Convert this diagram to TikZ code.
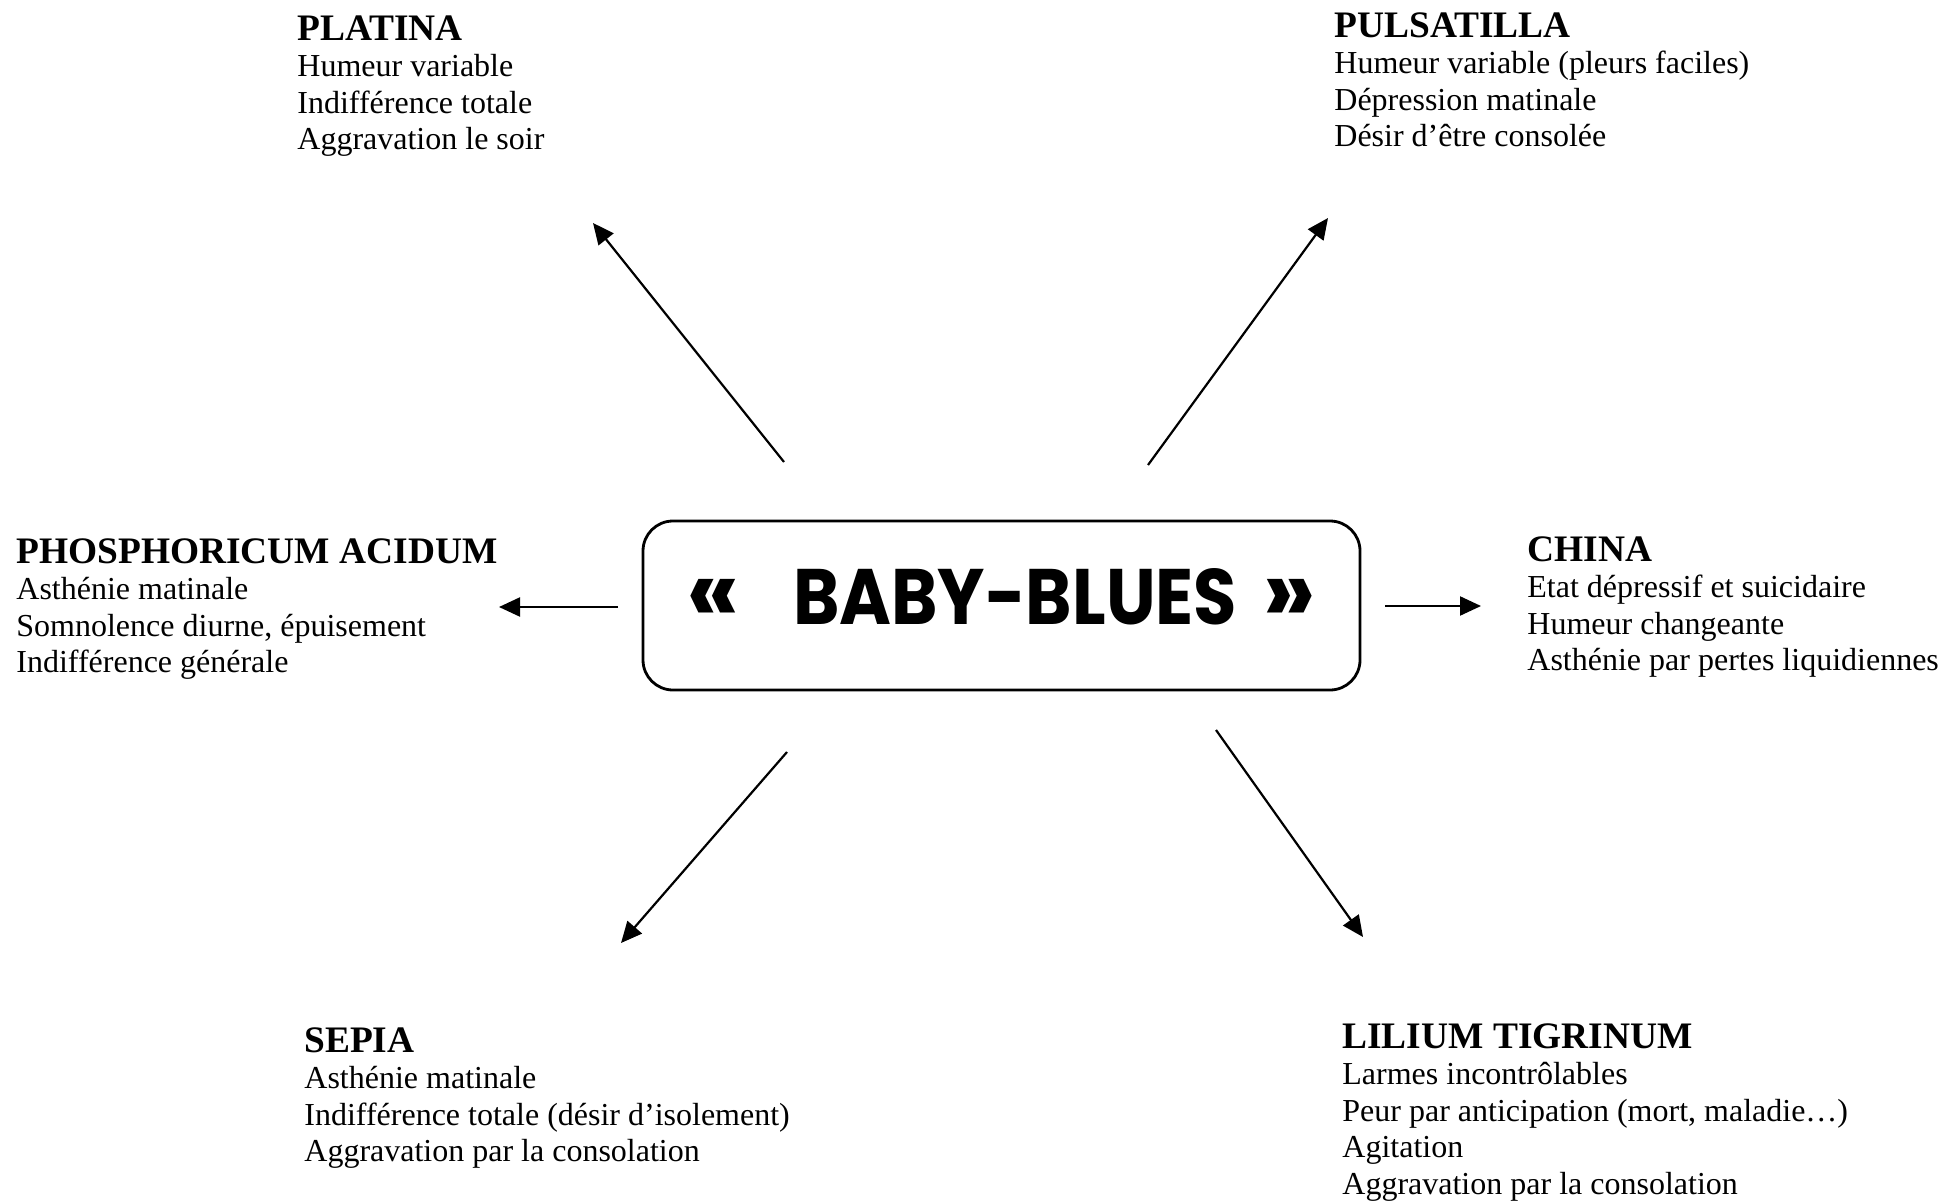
\documentclass[tikz,border=0pt]{standalone}
\usepackage{fontspec}
\usepackage{graphicx}
\setmainfont{Liberation Serif}
\newfontfamily\bluesfont{Poppins}
\usetikzlibrary{arrows.meta}

\newcommand{\titre}[1]{{\fontsize{18.7}{18.25}\selectfont\bfseries #1}}

\tikzset{
  remede/.style={anchor=north west,align=left,inner sep=0pt,
    font=\fontsize{16}{18.25}\selectfont},
  fleche/.style={-{Triangle[length=10.5pt,width=9.5pt]},line width=1.1pt},
  cadre/.style={draw,line width=1.4pt,rounded corners=15pt,
    minimum width=358.5pt,minimum height=84.5pt,inner sep=0pt}
}

\begin{document}
\begin{tikzpicture}[x=0.5pt,y=-0.5pt]
    \useasboundingbox (0,0) rectangle (1946,1203);
    % Centre
    \node[cadre] (baby) at (1001.5,605.5) {\raisebox{9.25pt}{\bluesfont\bfseries
      \fontsize{48}{48}\selectfont «\hspace{26.4pt}\resizebox{222pt}{28pt}{BABY-BLUES}\hspace{12.8pt}»}};
    % Remedes
    \node[remede] (platina) at (297,15) {\titre{PLATINA}\\Humeur variable\\Indifférence totale\\Aggravation le soir};
    \node[remede] (pulsatilla) at (1334,12) {\titre{PULSATILLA}\\Humeur variable (pleurs faciles)\\Dépression matinale\\Désir d’être consolée};
    \node[remede] (phosphoricum) at (16,538) {\titre{PHOSPHORICUM ACIDUM}\\Asthénie matinale\\Somnolence diurne, épuisement\\Indifférence générale};
    \node[remede] (china) at (1527,536) {\titre{CHINA}\\Etat dépressif et suicidaire\\Humeur changeante\\Asthénie par pertes liquidiennes};
    \node[remede] (sepia) at (304,1027) {\titre{SEPIA}\\Asthénie matinale\\Indifférence totale (désir d’isolement)\\Aggravation par la consolation};
    \node[remede] (lilium) at (1342,1023) {\titre{LILIUM TIGRINUM}\\Larmes incontrôlables\\Peur par anticipation (mort, maladie…)\\Agitation\\Aggravation par la consolation};
    % Arrows
    \coordinate (platina-de) at (784,462);    \coordinate (platina-a) at (593,223);
    \coordinate (pulsatilla-de) at (1148,465); \coordinate (pulsatilla-a) at (1328,218);
    \coordinate (phosphoricum-de) at (618,607); \coordinate (phosphoricum-a) at (499,607);
    \coordinate (china-de) at (1385,606);     \coordinate (china-a) at (1481,606);
    \coordinate (sepia-de) at (787,752);      \coordinate (sepia-a) at (621,943);
    \coordinate (lilium-de) at (1216,730);    \coordinate (lilium-a) at (1363,937);
    \foreach \r in {platina,pulsatilla,phosphoricum,china,sepia,lilium}
      \draw[fleche] (\r-de) -- (\r-a);
\end{tikzpicture}
\end{document}
